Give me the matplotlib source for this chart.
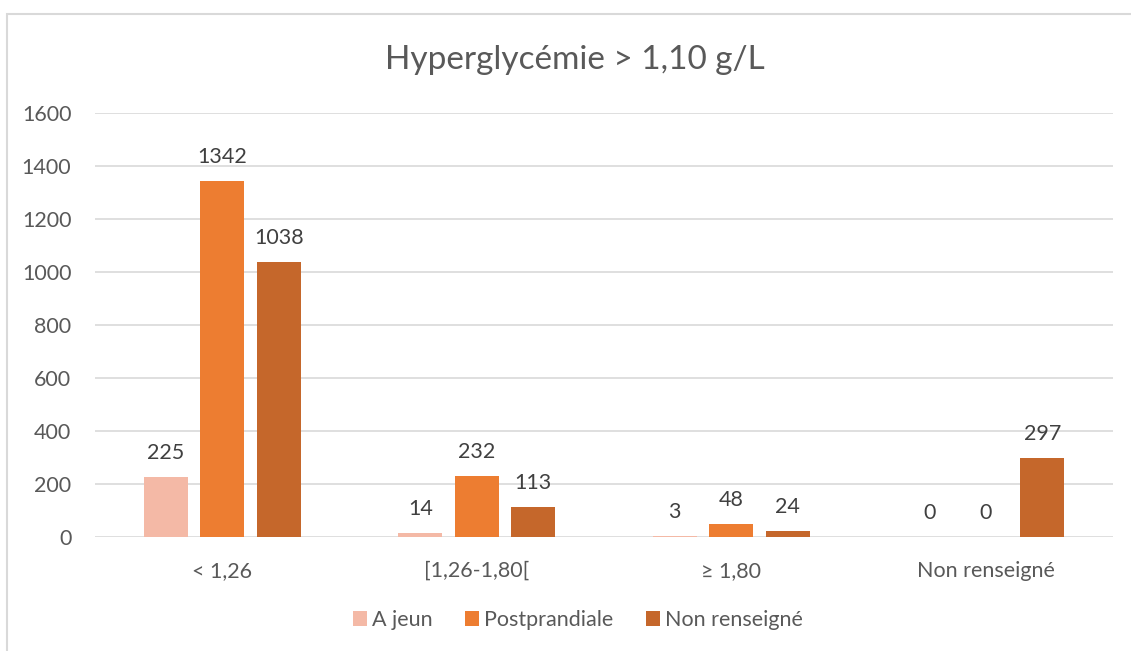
"""Histogramme groupé : hyperglycémie > 1,10 g/L."""

import matplotlib.pyplot as plt
import numpy as np
from matplotlib.patches import Rectangle

plt.rcParams["font.family"] = ["Lato", "DejaVu Sans"]

CATEGORIES = ["< 1,26", "[1,26-1,80[", "≥ 1,80", "Non renseigné"]
SERIES_NAMES = ["A jeun", "Postprandiale", "Non renseigné"]
A_JEUN = [225, 14, 3, 0]
POSTPRANDIALE = [1342, 232, 48, 0]
NON_RENSEIGNE = [1038, 113, 24, 297]
Y_TICKS = [0, 200, 400, 600, 800, 1000, 1200, 1400, 1600]

COLORS = ["#F4B9A6", "#ED7D31", "#C5672B"]
TEXT_COLOR = "#595959"
GRID_COLOR = "#D9D9D9"

fig = plt.figure(figsize=(11.31, 6.51), dpi=100)
ax = fig.add_axes((95 / 1131, 1 - 537 / 651, (1113 - 95) / 1131, (537 - 113) / 651))

# cadre du graphique (bord gauche et haut visibles)
fig.patches.append(
    Rectangle(
        (6.5 / 1131, -0.1),
        1.2,
        1.1 - 13.5 / 651,
        transform=fig.transFigure,
        fill=False,
        edgecolor="#D9D9D9",
        linewidth=1.5,
    )
)

x = np.arange(len(CATEGORIES))
width = 0.173
step = 0.222
for i, (name, values) in enumerate(zip(SERIES_NAMES, [A_JEUN, POSTPRANDIALE, NON_RENSEIGNE])):
    bars = ax.bar(x + (i - 1) * step, values, width, color=COLORS[i], label=name, zorder=3)
    for bar, value in zip(bars, values):
        ax.annotate(
            f"{value}",
            (bar.get_x() + bar.get_width() / 2, bar.get_height()),
            xytext=(0, 10),
            textcoords="offset points",
            ha="center",
            va="bottom",
            fontsize=15.5,
            color="#404040",
        )

ax.set_xlim(-0.5, len(CATEGORIES) - 0.5)
ax.set_ylim(0, 1600)
ax.set_yticks(Y_TICKS)
ax.set_xticks(x)
ax.set_xticklabels(CATEGORIES)
ax.tick_params(axis="both", length=0, labelsize=15.5, labelcolor=TEXT_COLOR)
ax.tick_params(axis="x", pad=17)
ax.tick_params(axis="y", pad=17)
ax.grid(axis="y", color=GRID_COLOR, linewidth=1.2, zorder=0)
for spine in ax.spines.values():
    spine.set_visible(False)

fig.text(575 / 1131, 1 - 60 / 651, "Hyperglycémie > 1,10 g/L", ha="center", va="center",
         fontsize=24, color=TEXT_COLOR)

fig.legend(
    loc="center",
    bbox_to_anchor=(578 / 1131, 1 - 620 / 651),
    ncol=3,
    frameon=False,
    fontsize=15.5,
    labelcolor=TEXT_COLOR,
    handlelength=0.65,
    handleheight=0.65,
    handletextpad=0.25,
    columnspacing=1.5,
)

fig.savefig("out.png", dpi=100)
